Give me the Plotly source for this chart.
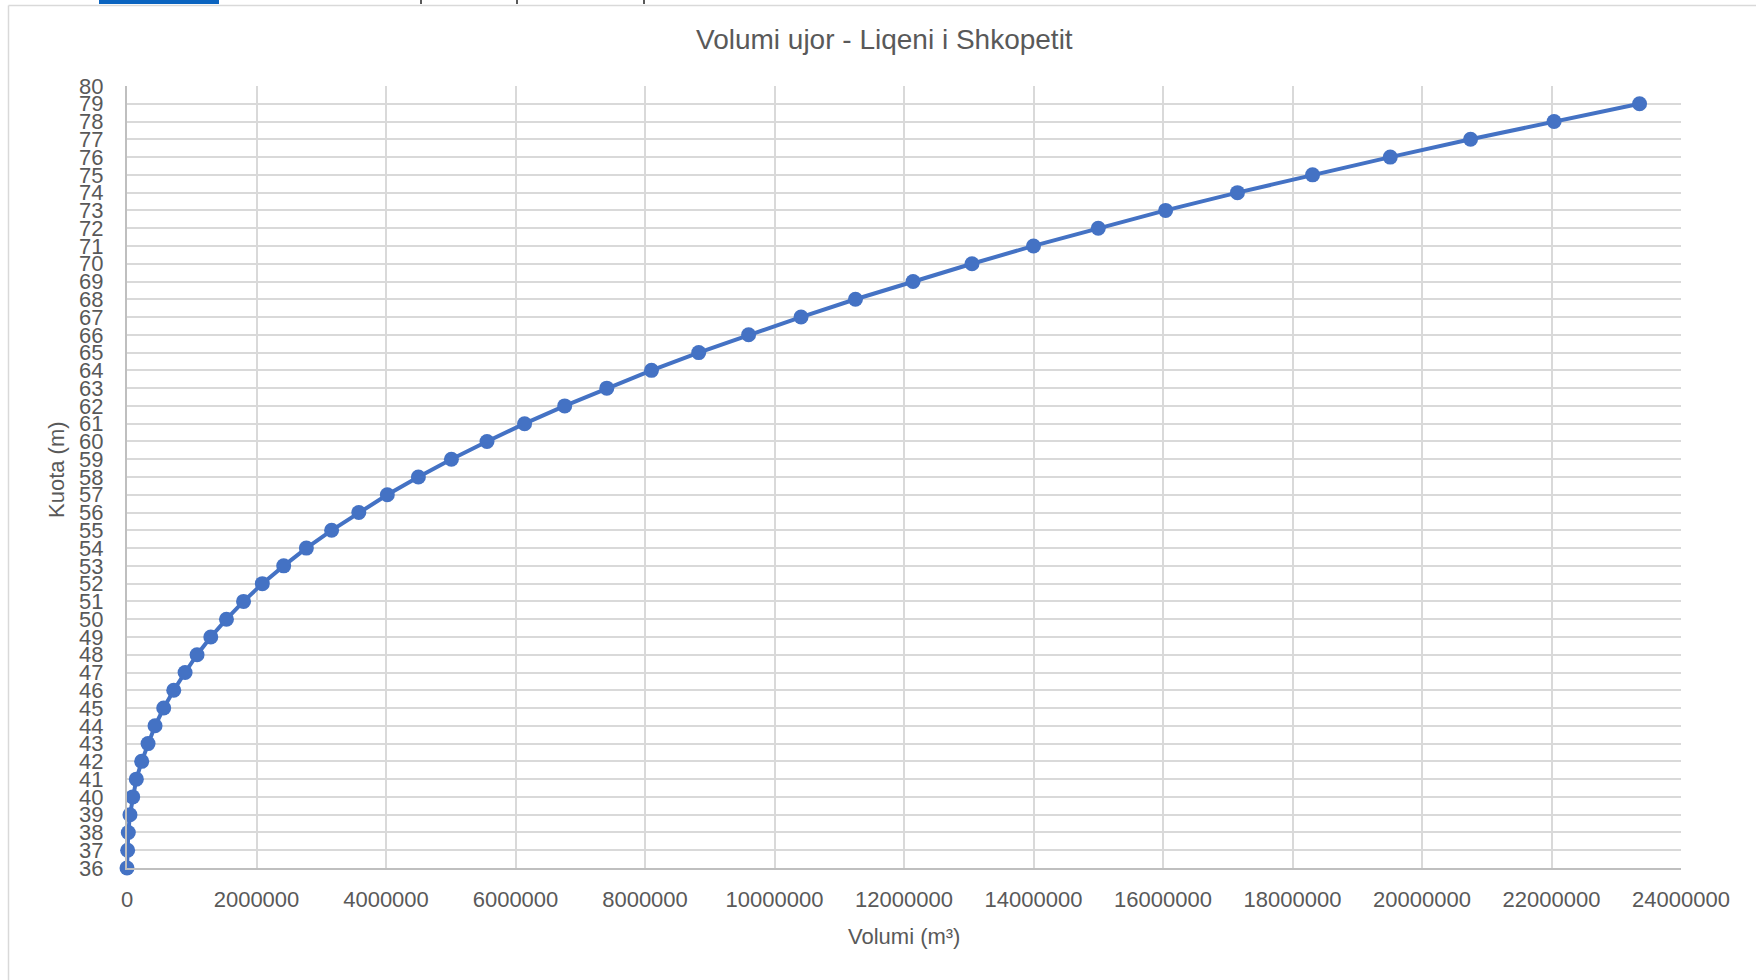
import plotly.graph_objects as go

# Data
kuota = list(range(36, 80))  # elevation (m)
volumi = [
    0, 10000, 20000, 46000, 88000, 144000, 227000, 325000, 433000, 567000,
    722000, 897000, 1082000, 1294000, 1536000, 1800000, 2090000, 2420000, 2770000, 3160000,
    3580000, 4020000, 4500000, 5010000, 5560000, 6140000, 6760000, 7410000, 8100000, 8830000,
    9600000, 10410000, 11250000, 12140000, 13050000, 14000000, 15000000, 16040000, 17150000, 18310000,
    19510000, 20750000, 22040000, 23360000,
]
title_text = "Volumi ujor - Liqeni i Shkopetit"
x_title = "Volumi (m³)"
y_title = "Kuota (m)"

W, H = 1756, 980
L, R, T, B = 127, 1681, 86, 868  # plot area in pixels


def px(x):
    return (x - L) / (R - L)


def py(y):
    return (B - y) / (B - T)


FONT = "Liberation Sans, Arial, sans-serif"
GRAY = "#595959"
GRID = "#d9d9d9"

fig = go.Figure()
fig.add_trace(go.Scatter(
    x=volumi, y=kuota, mode="lines+markers",
    line=dict(color="#4472C4", width=4),
    marker=dict(color="#4472C4", size=15),
    cliponaxis=False,
    hoverinfo="skip", showlegend=False,
))

shapes = [
    # chart frame (left and top borders)
    dict(type="line", xref="paper", yref="paper", x0=px(8.5), x1=px(8.5), y0=py(5.5), y1=py(985),
         line=dict(color=GRID, width=1.5)),
    dict(type="line", xref="paper", yref="paper", x0=px(8.5), x1=px(1760), y0=py(5.5), y1=py(5.5),
         line=dict(color=GRID, width=1.5)),
    # blue strip of the page above the chart
    dict(type="rect", xref="paper", yref="paper", x0=px(99), x1=px(219), y0=py(0), y1=py(4),
         line=dict(width=0), fillcolor="#0B64C0"),
]
for xp in [421, 517, 644]:
    shapes.append(dict(type="line", xref="paper", yref="paper", x0=px(xp), x1=px(xp), y0=py(0), y1=py(4),
                       line=dict(color="#222222", width=1.5)))

annotations = [
    dict(text=title_text, xref="paper", yref="paper", x=px(884), y=py(39), showarrow=False,
         xanchor="center", yanchor="middle", font=dict(family=FONT, size=28, color=GRAY)),
    dict(text=x_title, xref="paper", yref="paper", x=px(904), y=py(937), showarrow=False,
         xanchor="center", yanchor="middle", font=dict(family=FONT, size=22, color=GRAY)),
    dict(text=y_title, xref="paper", yref="paper", x=px(56), y=py(470), showarrow=False, textangle=-90,
         xanchor="center", yanchor="middle", font=dict(family=FONT, size=22, color=GRAY)),
]

fig.update_layout(
    width=W, height=H,
    margin=dict(l=L, r=W - R, t=T, b=H - B, pad=0),
    paper_bgcolor="white", plot_bgcolor="white",
    font=dict(family=FONT, color=GRAY),
    shapes=shapes, annotations=annotations,
    xaxis=dict(
        range=[0, 24000000], tick0=0, dtick=2000000, tickformat="d",
        showgrid=True, gridcolor=GRID, gridwidth=2,
        showline=True, linecolor="#bfbfbf", linewidth=2,
        zeroline=False, ticks="", ticklabelstandoff=11,
        tickfont=dict(family=FONT, size=22, color=GRAY),
    ),
    yaxis=dict(
        range=[36, 80], tick0=36, dtick=1,
        showgrid=True, gridcolor=GRID, gridwidth=2,
        showline=True, linecolor="#bfbfbf", linewidth=2,
        zeroline=False, ticks="", ticklabelstandoff=17,
        tickfont=dict(family=FONT, size=22, color=GRAY),
    ),
)

fig.write_html(
    "out.html",
    config={"displayModeBar": False},
    post_script="document.body.style.margin='0px';document.body.style.overflow='hidden';",
)
